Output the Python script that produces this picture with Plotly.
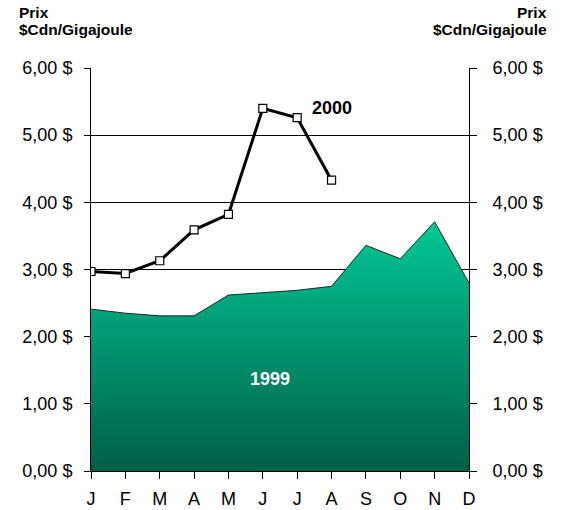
import plotly.graph_objects as go

months = ["J", "F", "M", "A", "M", "J", "J", "A", "S", "O", "N", "D"]
x_idx = list(range(12))
prix_1999 = [2.41, 2.35, 2.31, 2.31, 2.62, 2.65, 2.69, 2.75, 3.36, 3.16, 3.71, 2.80]
prix_2000 = [2.97, 2.94, 3.13, 3.59, 3.82, 5.40, 5.26, 4.33]
y_ticks = [0, 1, 2, 3, 4, 5, 6]
y_ticktext = ["0,00 $", "1,00 $", "2,00 $", "3,00 $", "4,00 $", "5,00 $", "6,00 $"]

FONT = "Liberation Sans, Arial, sans-serif"

fig = go.Figure()
fig.add_trace(go.Scatter(
    x=x_idx, y=prix_1999, mode="lines", fill="tozeroy",
    line=dict(color="#1a2a22", width=1),
    fillgradient=dict(type="vertical",
                      colorscale=[[0, "#005f46"], [1, "#00c896"]]),
    hoverinfo="skip", showlegend=False,
))
fig.add_trace(go.Scatter(
    x=x_idx[:len(prix_2000)], y=prix_2000, mode="lines+markers",
    line=dict(color="black", width=3),
    marker=dict(symbol="square", size=8, color="white",
                line=dict(color="black", width=1.2)),
    showlegend=False,
))
# invisible trace for right axis
fig.add_trace(go.Scatter(x=[0], y=[0], yaxis="y2", mode="markers",
                         marker=dict(opacity=0), showlegend=False, hoverinfo="skip"))

fig.update_layout(
    width=561, height=510,
    margin=dict(l=91, r=92, t=68, b=39, autoexpand=False),
    paper_bgcolor="white", plot_bgcolor="white",
    font=dict(family=FONT, size=18, color="black"),
    xaxis=dict(range=[0, 11], tickvals=x_idx, ticktext=months, automargin=False,
               showgrid=False, zeroline=False, showline=True, linecolor="black",
               linewidth=1, ticks="outside", ticklen=7, tickcolor="black",
               tickfont=dict(size=18), ticklabelstandoff=4),
    yaxis=dict(range=[0, 6], tickvals=y_ticks, ticktext=y_ticktext, automargin=False,
               showgrid=True, gridcolor="black", gridwidth=1, zeroline=False,
               showline=True, linecolor="black", linewidth=1,
               ticks="outside", ticklen=6, tickcolor="black",
               tickfont=dict(size=18), ticklabelstandoff=8),
    yaxis2=dict(range=[0, 6], tickvals=y_ticks, ticktext=y_ticktext, automargin=False,
                overlaying="y", side="right", showgrid=False, zeroline=False,
                showline=True, linecolor="black", linewidth=1,
                ticks="outside", ticklen=7, tickcolor="black",
                tickfont=dict(size=18), ticklabelstandoff=12),
    annotations=[
        dict(text="<b>Prix</b>", xref="paper", yref="paper",
             x=-0.1958, y=1.1365, xanchor="left", yanchor="middle",
             showarrow=False, font=dict(size=15.5)),
        dict(text="<b>$Cdn/Gigajoule</b>", xref="paper", yref="paper",
             x=-0.1958, y=1.0955, xanchor="left", yanchor="middle",
             showarrow=False, font=dict(size=15.5)),
        dict(text="<b>Prix</b>", xref="paper", yref="paper",
             x=1.2116, y=1.1365, xanchor="right", yanchor="middle",
             showarrow=False, font=dict(size=15.5)),
        dict(text="<b>$Cdn/Gigajoule</b>", xref="paper", yref="paper",
             x=1.2116, y=1.0955, xanchor="right", yanchor="middle",
             showarrow=False, font=dict(size=15.5)),
        dict(text="<b>2000</b>", x=7.01, y=5.41, xref="x", yref="y",
             xanchor="center", yanchor="middle", showarrow=False,
             font=dict(size=18)),
        dict(text="<b>1999</b>", x=5.21, y=1.37, xref="x", yref="y",
             xanchor="center", yanchor="middle", showarrow=False,
             font=dict(size=18, color="white")),
    ],
)

fig.write_html("out.html", config={"displayModeBar": False},
               post_script="document.body.style.margin='0px';")
